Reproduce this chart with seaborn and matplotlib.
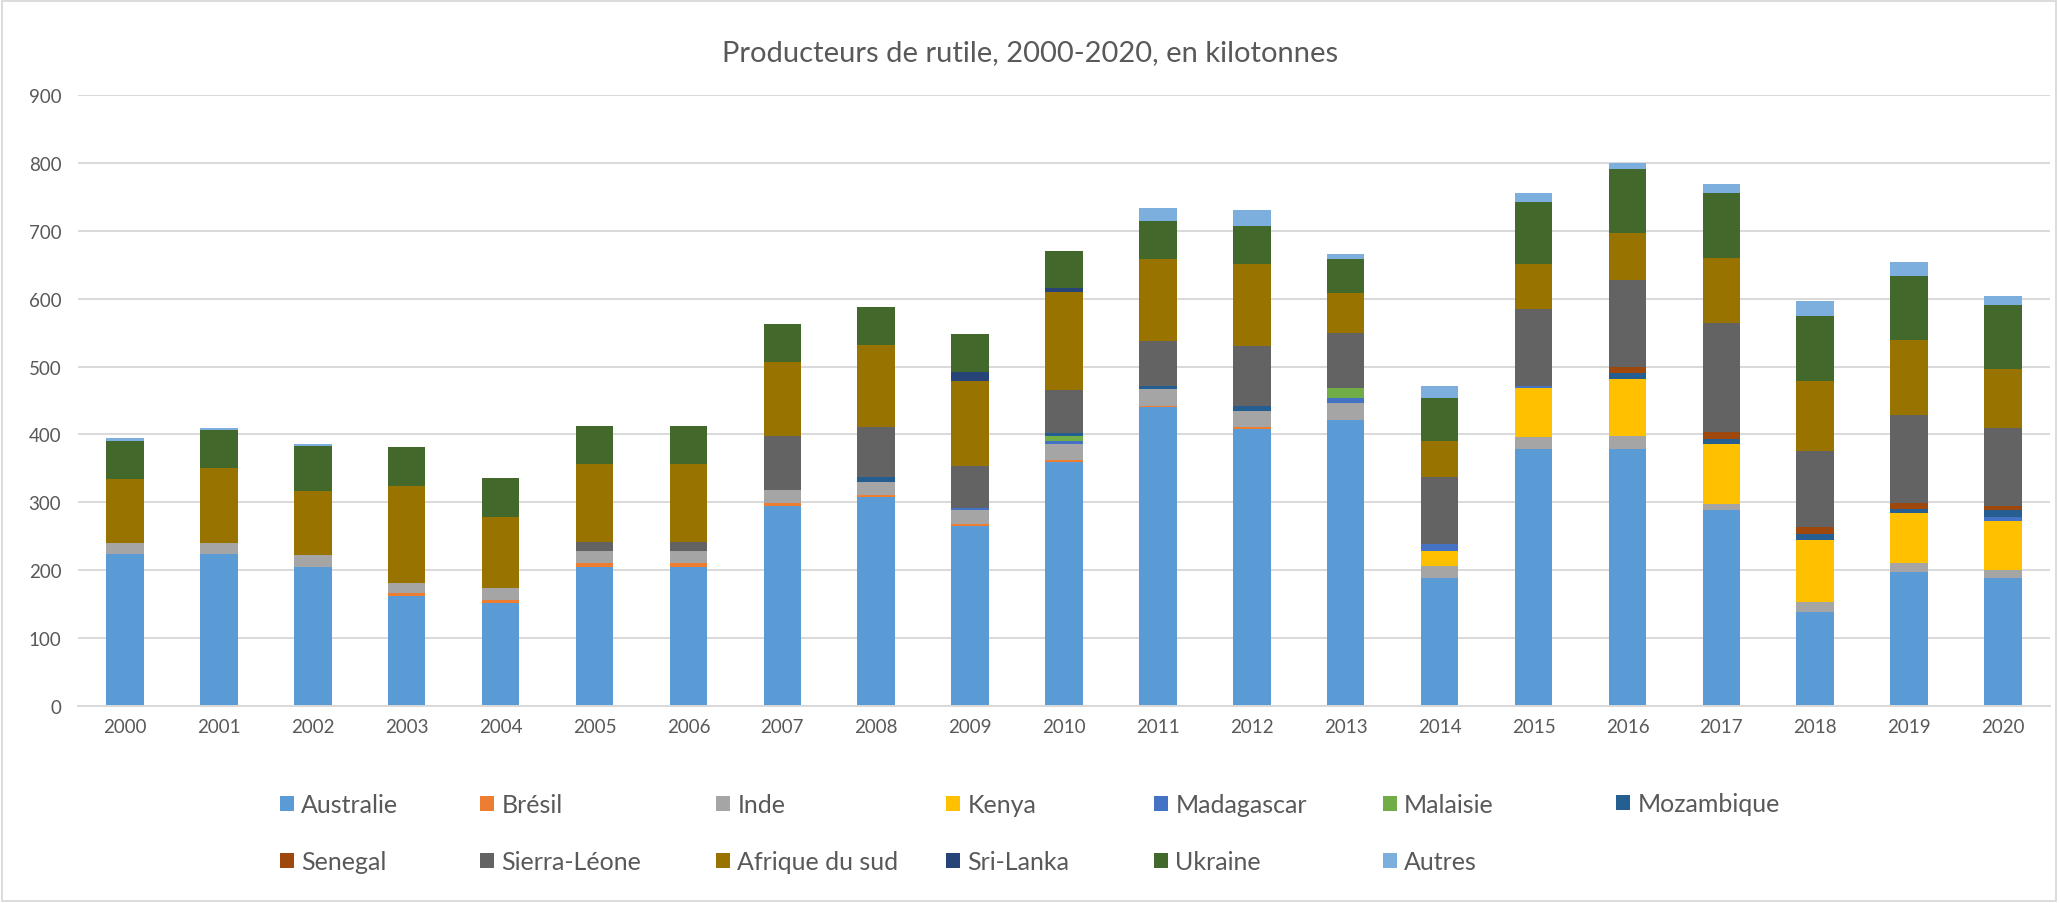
import matplotlib.pyplot as plt
import numpy as np
import pandas as pd
import seaborn as sns
from matplotlib.patches import Patch, Rectangle

# données (kilotonnes)
annees = [str(a) for a in range(2000, 2021)]
australie = [224, 224, 205, 162, 151, 205, 205, 295, 308, 265, 359, 440, 408, 421, 189, 378, 378, 288, 139, 198, 188]
bresil = [0, 0, 0, 4, 5, 5, 5, 4, 3, 3, 4, 2, 3, 0, 0, 0, 0, 0, 0, 0, 0]
inde = [16, 16, 17, 15, 18, 18, 18, 19, 19, 20, 23, 25, 24, 25, 17, 18, 20, 10, 14, 12, 12]
kenya = [0, 0, 0, 0, 0, 0, 0, 0, 0, 0, 0, 0, 0, 0, 22, 72, 84, 88, 92, 74, 73]
madagascar = [0, 0, 0, 0, 0, 0, 0, 0, 0, 3, 5, 0, 0, 8, 10, 4, 0, 0, 0, 0, 6]
malaisie = [0, 0, 0, 0, 0, 0, 0, 0, 0, 0, 6, 0, 0, 14, 0, 0, 0, 0, 0, 0, 0]
mozambique = [0, 0, 0, 0, 0, 0, 0, 0, 7, 0, 5, 5, 7, 0, 0, 0, 8, 8, 8, 6, 10]
senegal = [0, 0, 0, 0, 0, 0, 0, 0, 0, 0, 0, 0, 0, 0, 0, 0, 9, 10, 11, 9, 5]
sierra_leone = [0, 0, 0, 0, 0, 13, 13, 80, 74, 63, 64, 65, 89, 81, 100, 113, 129, 160, 112, 130, 115]
afrique_sud = [94, 110, 94, 143, 104, 116, 116, 108, 121, 125, 144, 121, 120, 59, 53, 66, 69, 96, 103, 110, 87]
sri_lanka = [0, 0, 0, 0, 0, 0, 0, 0, 0, 13, 5, 0, 0, 0, 0, 0, 0, 0, 0, 0, 0]
ukraine = [57, 57, 67, 57, 58, 56, 56, 56, 56, 56, 55, 56, 56, 50, 63, 92, 94, 95, 96, 95, 94]
autres = [4, 3, 3, 0, 0, 0, 0, 0, 0, 0, 0, 19, 24, 8, 17, 13, 9, 14, 21, 20, 14]

series = ['Australie', 'Brésil', 'Inde', 'Kenya', 'Madagascar', 'Malaisie', 'Mozambique',
          'Senegal', 'Sierra-Léone', 'Afrique du sud', 'Sri-Lanka', 'Ukraine', 'Autres']
valeurs = [australie, bresil, inde, kenya, madagascar, malaisie, mozambique,
           senegal, sierra_leone, afrique_sud, sri_lanka, ukraine, autres]
couleurs = ['#5B9BD5', '#ED7D31', '#A5A5A5', '#FFC000', '#4472C4', '#70AD47', '#255E91',
            '#9E480E', '#636363', '#997300', '#264478', '#43682B', '#7CAFDD']

sns.set_theme(style='white')
plt.rcParams['font.family'] = ['Lato', 'DejaVu Sans']
gris = '#595959'

df = pd.DataFrame(dict(zip(series, valeurs)), index=annees)
cumul = df.cumsum(axis=1)

fig = plt.figure(figsize=(20.6, 9.04), dpi=100)
ax = fig.add_axes([78 / 2060, 1 - 707 / 904, (2050 - 78) / 2060, (707 - 96) / 904])

# barres empilées : on dessine les cumuls du haut vers le bas
for nom, couleur in reversed(list(zip(series, couleurs))):
    sns.barplot(x=cumul.index, y=cumul[nom], color=couleur, width=0.4,
                saturation=1, order=annees, linewidth=0, ax=ax)

ax.set_ylim(0, 900)
ax.set_yticks(range(0, 1000, 100))
ax.set_xlim(-0.5, 20.5)
ax.set_xlabel('')
ax.set_ylabel('')
ax.grid(axis='y', color='#D9D9D9', linewidth=1.4)
ax.set_axisbelow(True)
sns.despine(ax=ax, left=True, top=True, right=True)
ax.spines['bottom'].set_color('#D9D9D9')
ax.spines['bottom'].set_linewidth(1.4)
ax.tick_params(axis='y', length=0, pad=12, labelsize=13.5, labelcolor=gris)
ax.tick_params(axis='x', length=0, pad=9, labelsize=13.5, labelcolor=gris)

fig.suptitle('Producteurs de rutile, 2000-2020, en kilotonnes', y=1 - 53 / 904,
             va='center', fontsize=21, color=gris)

# légende : 7 colonnes, 2 lignes, ordre par ligne comme dans Excel
poignees = [Patch(facecolor=c, edgecolor='none') for c in couleurs]
x_col = [280, 480, 716, 946, 1154, 1383, 1616]
for j, x in enumerate(x_col):
    idx = [j] + ([j + 7] if j + 7 < len(series) else [])
    lignes = len(idx)
    y_centre = 834.5 if lignes == 2 else 805
    fig.legend(handles=[poignees[i] for i in idx], labels=[series[i] for i in idx],
               loc='center left', bbox_to_anchor=(x / 2060, 1 - y_centre / 904),
               frameon=False, fontsize=18, labelcolor=gris, handlelength=0.55,
               handleheight=0.55, handletextpad=0.3, labelspacing=1.36,
               borderpad=0, borderaxespad=0)

fig.patches.append(Rectangle((0.001, 0.002), 0.997, 0.996, transform=fig.transFigure,
                             fill=False, edgecolor='#D9D9D9', linewidth=1.3))

fig.savefig('out.png', dpi=100)
